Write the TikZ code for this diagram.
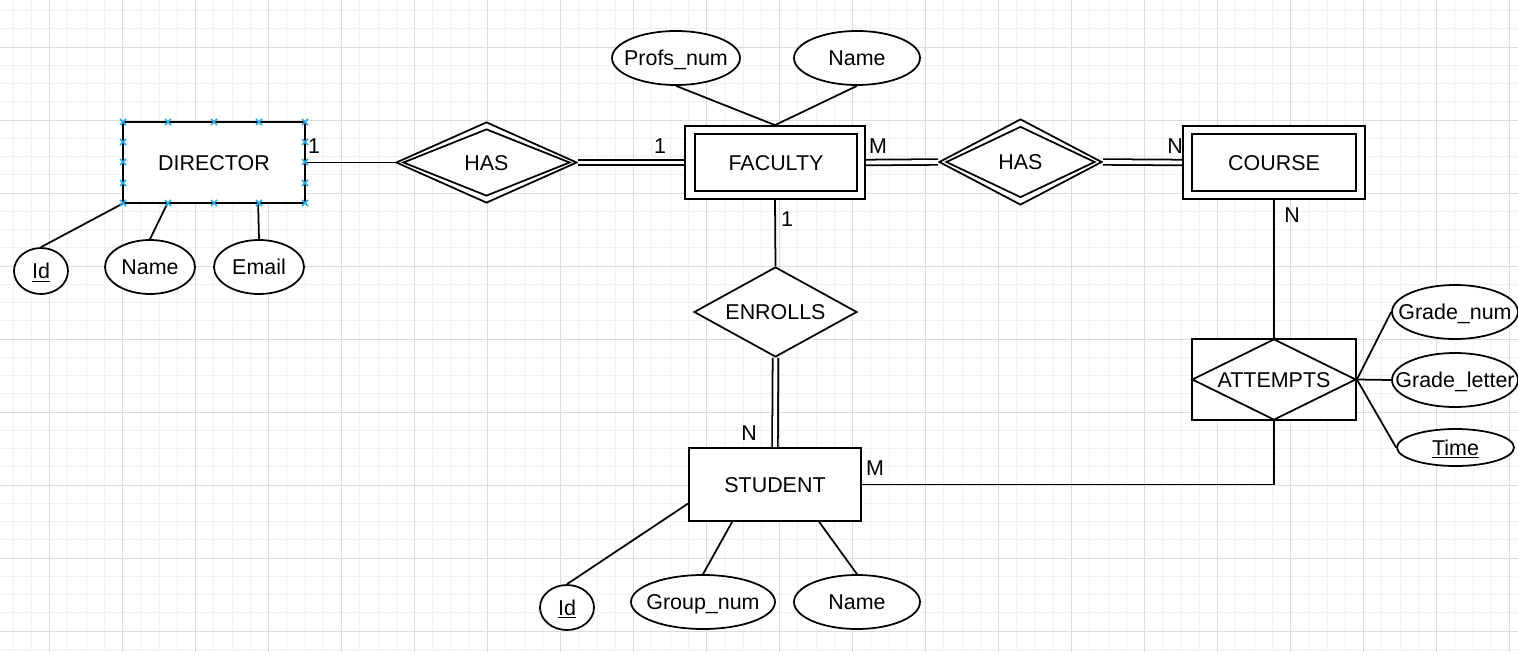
\documentclass[tikz,border=0pt]{standalone}
\usepackage{fontspec}
\setmainfont{Liberation Sans}
\usetikzlibrary{shapes.geometric,calc}
\definecolor{gminor}{RGB}{241,241,241}
\definecolor{gmajor}{RGB}{220,220,220}
\definecolor{hdl}{RGB}{41,170,226}
\begin{document}
\begin{tikzpicture}[x=0.02cm,y=-0.02cm,
  font=\fontsize{12.2}{14}\selectfont,
  every node/.style={text height=8.7pt, text depth=0pt},
  ent/.style={draw, rectangle, line width=1pt, inner sep=0pt, fill=white},
  entin/.style={draw, rectangle, line width=1pt, inner sep=0pt},
  attr/.style={draw, ellipse, line width=1pt, inner sep=0pt, fill=white},
  rel/.style={draw, diamond, aspect=2, line width=1pt, inner sep=0pt, fill=white},
  relin/.style={draw, diamond, aspect=2, line width=1pt, inner sep=0pt},
  conn/.style={line width=1pt},
  dconn/.style={double, line width=1pt, double distance=2.2pt},
  card/.style={inner sep=0pt},
  txt/.style={inner sep=0pt},
  handle/.style={draw=hdl, line width=0.9pt}]
\useasboundingbox (0,0) rectangle (1518,652);
% grid
\foreach \i in {0,...,82} \draw[gminor, line width=0.5pt] ({13+\i*18.25},0) -- ({13+\i*18.25},652);
\foreach \j in {0,...,35} \draw[gminor, line width=0.5pt] (0,{10.5+\j*18.25}) -- (1518,{10.5+\j*18.25});
\foreach \k in {0,...,20} \draw[gmajor, line width=0.5pt] ({49+\k*73},0) -- ({49+\k*73},652);
\foreach \k in {0,...,8} \draw[gmajor, line width=0.5pt] (0,{47+\k*73}) -- (1518,{47+\k*73});

% entities
\node[ent, minimum width=3.64cm, minimum height=1.62cm] (dir) at (214,162.5) {DIRECTOR};
\node[ent, minimum width=3.6cm, minimum height=1.46cm] (fac) at (775,162.5) {};
\node[entin, minimum width=3.24cm, minimum height=1.14cm] (faci) at (776,162.5) {FACULTY};
\node[ent, minimum width=3.64cm, minimum height=1.46cm] (crs) at (1274,162.5) {};
\node[entin, minimum width=3.28cm, minimum height=1.14cm] (crsi) at (1274,162.5) {COURSE};
\node[ent, minimum width=3.44cm, minimum height=1.46cm] (stu) at (775,484.5) {STUDENT};

% relationships
\node[rel, minimum width=3.62cm, minimum height=1.62cm] (has1) at (486.5,162.5) {};
\node[relin, minimum width=3.34cm, minimum height=1.34cm] (has1i) at (486.5,162.5) {};
\node[txt] (has1t) at (has1) {HAS};
\node[rel, minimum width=3.26cm, minimum height=1.72cm] (has2) at (1020.5,162) {};
\node[relin, minimum width=2.98cm, minimum height=1.42cm] (has2i) at (1020.5,162) {};
\node[txt] (has2t) at (has2) {HAS};
\node[rel, minimum width=3.26cm, minimum height=1.8cm] (enr) at (775.5,312) {};
\node[txt] (enrt) at (enr) {ENROLLS};
\node[ent, minimum width=3.28cm, minimum height=1.62cm] (att) at (1274,379.5) {};
\node[relin, minimum width=3.28cm, minimum height=1.62cm] (atti) at (1274,379.5) {};
\node[txt] (attt) at (atti) {ATTEMPTS};

% attributes
\node[attr, minimum width=2.56cm, minimum height=1.08cm] (pn) at (676,58) {};
\node[txt] at (pn) {Profs\_num};
\node[attr, minimum width=2.52cm, minimum height=1.08cm] (fname) at (857,58) {};
\node[txt] at (fname) {Name};
\node[attr, minimum width=1.08cm, minimum height=0.92cm] (did) at (41,271) {};
\node[txt] at (did) {\underline{Id}};
\node[attr, minimum width=1.8cm, minimum height=1.08cm] (dname) at (150,267) {};
\node[txt] at (dname) {Name};
\node[attr, minimum width=1.8cm, minimum height=1.08cm] (demail) at (259,267) {};
\node[txt] at (demail) {Email};
\node[attr, minimum width=2.52cm, minimum height=1.08cm] (gn) at (1455,312) {};
\node[txt] at (gn) {Grade\_num};
\node[attr, minimum width=2.52cm, minimum height=1.08cm] (gl) at (1455,380) {};
\node[txt] at (gl) {Grade\_letter};
\node[attr, minimum width=2.34cm, minimum height=0.74cm] (tm) at (1455.5,447.5) {};
\node[txt] at (tm) {\underline{Time}};
\node[attr, minimum width=1.08cm, minimum height=0.9cm] (sid) at (567,607.5) {};
\node[txt] at (sid) {\underline{Id}};
\node[attr, minimum width=2.88cm, minimum height=1.08cm] (sgn) at (703,602) {};
\node[txt] at (sgn) {Group\_num};
\node[attr, minimum width=2.52cm, minimum height=1.08cm] (sname) at (857,602) {};
\node[txt] at (sname) {Name};

% connectors
\draw[conn] (pn.south) -- (fac.north);
\draw[conn] (fname.south) -- (fac.north);
\draw[conn] (dir.east) -- (has1.west);
\draw[dconn] (has1.east) -- (fac.west);
\draw[dconn] (fac.east) -- (has2.west);
\draw[dconn] (has2.east) -- (crs.west);
\draw[conn] (fac.south) -- (enr.north);
\draw[dconn] (enr.south) -- (stu.north);
\draw[conn] (crs.south) -- (att.north);
\draw[conn] (att.south) |- (stu.east);
\draw[conn] (atti.east) -- (gn.west);
\draw[conn] (atti.east) -- (gl.west);
\draw[conn] (atti.east) -- (tm.west);
\draw[conn] (dir.south west) -- (did.north);
\draw[conn] ($(dir.south west)+(45,0)$) -- (dname.north);
\draw[conn] ($(dir.south west)+(136,0)$) -- (demail.north);
\draw[conn] ($(stu.west)+(0,19)$) -- (sid.north);
\draw[conn] ($(stu.south west)+(44,0)$) -- (sgn.north);
\draw[conn] ($(stu.south west)+(131,0)$) -- (sname.north);

% cardinalities
\node[card] (c1) at (314,146) {1};
\node[card] (c2) at (660,146) {1};
\node[card] (c3) at (878,146) {M};
\node[card] (c4) at (1175,146) {N};
\node[card] (c5) at (787,219) {1};
\node[card] (c6) at (1292,215) {N};
\node[card] (c7) at (749,433) {N};
\node[card] (c8) at (875,468) {M};

% selection handles on DIRECTOR
\foreach \x in {123,168,214,259,305} {
  \draw[handle] (\x-3,119) -- (\x+3,125) (\x-3,125) -- (\x+3,119);
  \draw[handle] (\x-3,200) -- (\x+3,206) (\x-3,206) -- (\x+3,200);
}
\foreach \y in {142,162,183} {
  \draw[handle] (120,\y-3) -- (126,\y+3) (120,\y+3) -- (126,\y-3);
  \draw[handle] (302,\y-3) -- (308,\y+3) (302,\y+3) -- (308,\y-3);
}
\end{tikzpicture}
\end{document}
